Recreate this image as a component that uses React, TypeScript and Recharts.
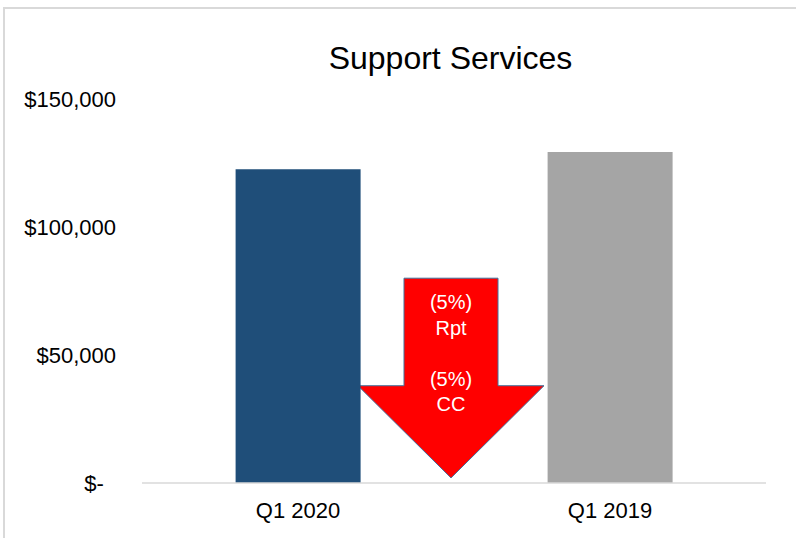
import { Bar, BarChart, Cell, ReferenceArea, XAxis, YAxis } from "recharts";

const categories = ["Q1 2020", "Q1 2019"];
const revenue = [122600, 129300];
const barColors = ["#1f4e79", "#a5a5a5"];
const yTicks = [0, 50000, 100000, 150000];

// down arrow annotation, in $ on the y axis
const arrowTop = 80000;
const arrowShoulder = 38000;
const arrowTip = 2000;
const arrowLines = ["(5%)", "Rpt", "", "(5%)", "CC"];

const data = categories.map((c, i) => ({ name: c, value: revenue[i] }));

const FONT = "'Liberation Sans', Arial, sans-serif";

function fmtDollar(v: number) {
  // accounting style: zero shows as a dash, padded on the right
  if (v === 0) return "$-\u00A0\u00A0";
  return "$" + v.toLocaleString("en-US");
}

function ArrowShape(props: any) {
  const { x, y, width, height } = props;
  if (x == null || y == null) return null;
  const cx = x + width / 2 - 3;
  const shoulderY = y + (height * (arrowTop - arrowShoulder)) / (arrowTop - arrowTip);
  const tipY = y + height;
  const shaft = 47;
  const head = 93;
  const d = [
    `M${cx - shaft},${y}`,
    `L${cx + shaft},${y}`,
    `L${cx + shaft},${shoulderY}`,
    `L${cx + head},${shoulderY}`,
    `L${cx},${tipY}`,
    `L${cx - head},${shoulderY}`,
    `L${cx - shaft},${shoulderY}`,
    "Z",
  ].join(" ");
  return (
    <g>
      <path d={d} fill="#ff0000" stroke="#41719c" strokeWidth={1} />
      <text textAnchor="middle" fill="#ffffff" fontSize={20} fontFamily={FONT}>
        {arrowLines.map((t, i) => (
          <tspan key={i} x={cx} y={y + 31 + i * 25.5}>
            {t || " "}
          </tspan>
        ))}
      </text>
    </g>
  );
}

export default function App() {
  return (
    <div style={{ position: "absolute", left: 0, top: 0, width: 796, height: 538, background: "#fff", overflow: "hidden" }}>
      <div
        style={{
          position: "absolute",
          left: 3,
          top: 7,
          width: 800,
          height: 540,
          borderTop: "2px solid #d9d9d9",
          borderLeft: "2px solid #d9d9d9",
        }}
      />
      <div
        style={{
          position: "absolute",
          left: 0,
          top: 42,
          width: 901,
          textAlign: "center",
          fontFamily: FONT,
          fontSize: 32,
          lineHeight: "32px",
          color: "#000",
        }}
      >
        Support Services
      </div>
      <div style={{ position: "absolute", left: 0, top: 0 }}>
        <BarChart width={796} height={538} data={data} margin={{ top: 99, right: 30, bottom: 0, left: 0 }} barCategoryGap="30%">
          <XAxis
            dataKey="name"
            height={55}
            axisLine={{ stroke: "#d9d9d9", strokeWidth: 1.5 }}
            tickLine={false}
            tickSize={0}
            tickMargin={19}
            tick={{ fontSize: 22, fill: "#000", fontFamily: FONT }}
          />
          <YAxis
            width={142}
            domain={[0, 150000]}
            ticks={yTicks}
            axisLine={false}
            tickLine={false}
            tickSize={0}
            tickMargin={26}
            tickFormatter={fmtDollar}
            tick={{ fontSize: 22, fill: "#000", fontFamily: FONT }}
          />
          <Bar dataKey="value" isAnimationActive={false}>
            {data.map((d, i) => (
              <Cell key={d.name} fill={barColors[i]} />
            ))}
          </Bar>
          <ReferenceArea y1={arrowTip} y2={arrowTop} shape={ArrowShape} ifOverflow="visible" />
        </BarChart>
      </div>
    </div>
  );
}
